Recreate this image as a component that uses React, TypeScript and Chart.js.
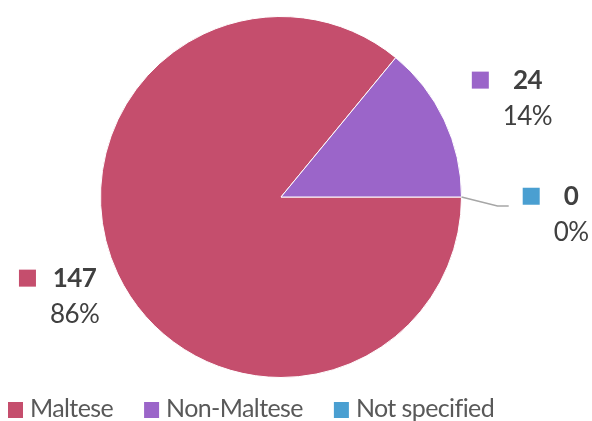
import React, { useEffect, useRef } from "react";
import { Chart, registerables } from "chart.js";

Chart.register(...registerables);

const categories = ["Maltese", "Non-Maltese", "Not specified"];
const values = [147, 24, 0];
const percentLabels = ["86%", "14%", "0%"];
const colors = ["#C54E6D", "#9B65C9", "#4A9FD1"];

// label placement relative to each slice's middle angle (radius factor, angle shift in degrees)
const labelRadius = [1.27, 1.47, 1.61];
const labelAngleShift = [-0.5, 3.5, 3.5];

const FONT = "Lato, 'Open Sans', sans-serif";
const TEXT = "#404040";
const FS = 26;
const LEG_FS = 25;

const labelsPlugin = {
  id: "customLabels",
  afterDraw(chart: any) {
    const ctx = chart.ctx;
    const meta = chart.getDatasetMeta(0);
    ctx.save();
    try { ctx.letterSpacing = "-0.6px"; } catch (e) {}
    meta.data.forEach((arc: any, i: number) => {
      const { x, y, startAngle, endAngle, outerRadius } = arc.getProps(
        ["x", "y", "startAngle", "endAngle", "outerRadius"],
        true
      );
      const mid = (startAngle + endAngle) / 2;
      const a = mid + (labelAngleShift[i] * Math.PI) / 180;
      const lx = x + Math.cos(a) * outerRadius * labelRadius[i];
      const ly = y + Math.sin(a) * outerRadius * labelRadius[i];
      const line1 = String(values[i]);
      const line2 = percentLabels[i];
      const y1 = ly - 18;
      const y2 = ly + 18;
      ctx.font = `bold ${FS}px ${FONT}`;
      const w1 = ctx.measureText(line1).width;
      ctx.font = `${FS}px ${FONT}`;
      const w2 = ctx.measureText(line2).width;
      const bw = Math.max(w1, w2);
      // leader line for tiny slices
      if (values[i] === 0) {
        const px = x + Math.cos(mid) * outerRadius;
        const py = y + Math.sin(mid) * outerRadius;
        ctx.strokeStyle = "#A6A6A6";
        ctx.lineWidth = 1.5;
        ctx.beginPath();
        ctx.moveTo(px, py);
        ctx.lineTo(px + 36, py + 9);
        ctx.lineTo(lx - bw / 2 - 45, py + 9);
        ctx.stroke();
      }
      // square
      ctx.fillStyle = colors[i];
      ctx.fillRect(lx - bw / 2 - 14 - 17, y1 - 9, 17, 17);
      ctx.fillStyle = TEXT;
      ctx.textAlign = "center";
      ctx.textBaseline = "middle";
      ctx.font = `bold ${FS}px ${FONT}`;
      ctx.fillText(line1, lx, y1);
      ctx.font = `${FS}px ${FONT}`;
      ctx.fillText(line2, lx, y2);
    });

    // legend
    let lxp = 8;
    const legY = 409;
    ctx.font = `${LEG_FS}px ${FONT}`;
    ctx.textAlign = "left";
    ctx.textBaseline = "middle";
    categories.forEach((c, i) => {
      ctx.fillStyle = colors[i];
      ctx.fillRect(lxp, legY - 7, 15, 16);
      ctx.fillStyle = "#595959";
      ctx.fillText(c, lxp + 22, legY);
      lxp += 22 + ctx.measureText(c).width + 31;
    });
    ctx.restore();
  },
};

export default function App() {
  const ref = useRef<HTMLCanvasElement | null>(null);
  useEffect(() => {
    if (!ref.current) return;
    const chart = new Chart(ref.current, {
      type: "pie",
      data: {
        labels: categories,
        datasets: [
          {
            data: values,
            backgroundColor: colors,
            borderColor: "#ffffff",
            borderWidth: 1,
          },
        ],
      },
      options: {
        animation: false,
        responsive: false,
        rotation: 90,
        layout: { padding: { top: 16, bottom: 43, left: 100, right: 130 } },
        plugins: {
          legend: { display: false },
          tooltip: { enabled: false },
        },
      },
      plugins: [labelsPlugin],
    });
    return () => chart.destroy();
  }, []);
  return (
    <div style={{ position: "absolute", left: 0, top: 0, width: 592, height: 421, background: "#fff" }}>
      <canvas ref={ref} width={592} height={421} />
    </div>
  );
}
